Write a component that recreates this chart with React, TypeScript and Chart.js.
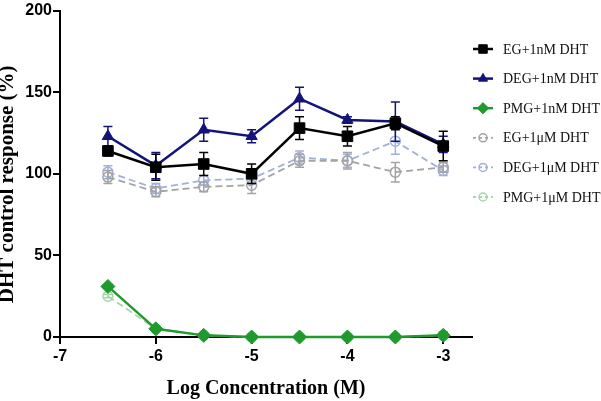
import { useEffect, useRef } from "react";
import { Chart, registerables } from "chart.js";
import { drawPoint } from "chart.js/helpers";

Chart.register(...registerables);

// log molar concentrations tested
const logConc = [-6.5, -6, -5.5, -5, -4.5, -4, -3.5, -3];
const xTicks = [-7, -6, -5, -4, -3];

const seriesNames = [
  "EG+1nM DHT",
  "DEG+1nM DHT",
  "PMG+1nM DHT",
  "EG+1μM DHT",
  "DEG+1μM DHT",
  "PMG+1μM DHT",
];

// mean % of DHT control response and SEM
const eg1nM = [114, 104, 106, 100, 128, 123, 131, 117];
const eg1nMErr = [3, 8, 7, 6, 7, 6, 4, 9];
const deg1nM = [123, 105, 127, 123, 146, 133, 132, 118];
const deg1nMErr = [6, 8, 7, 4, 7, 2, 12, 5];
const pmg1nM = [31, 5, 1, 0, 0, 0, 0, 1];
const pmg1nMErr = [1, 1, 1, 1, 1, 1, 1, 2];
const eg1uM = [98, 89, 92, 93, 108, 108, 101, 104];
const eg1uMErr = [4, 3, 3, 5, 4, 5, 6, 3];
const deg1uM = [101, 91, 96, 97, 110, 108, 120, 102];
const deg1uMErr = [4, 3, 3, 3, 4, 4, 8, 3];
const pmg1uM = [25, 5, 1, 0, 0, 0, 0, 1];
const pmg1uMErr = [1, 1, 1, 1, 1, 1, 1, 1];

const toPoints = (vals: number[]) => vals.map((y, i) => ({ x: logConc[i], y }));

const errorBars = {
  id: "errorBars",
  afterDatasetDraw(chart: any, args: any) {
    const ds = chart.data.datasets[args.index];
    const errs: number[] = ds.errors || [];
    const yScale = chart.scales.y;
    const ctx = chart.ctx;
    ctx.save();
    ctx.strokeStyle = ds.borderColor;
    ctx.lineWidth = 1.5;
    ctx.setLineDash([]);
    args.meta.data.forEach((pt: any, j: number) => {
      const v = ds.data[j].y;
      const e = errs[j] || 0;
      if (!e) return;
      const yTop = yScale.getPixelForValue(v + e);
      const yBot = yScale.getPixelForValue(Math.max(v - e, 0));
      const x = pt.x;
      ctx.beginPath();
      ctx.moveTo(x, yTop);
      ctx.lineTo(x, yBot);
      ctx.moveTo(x - 4.5, yTop);
      ctx.lineTo(x + 4.5, yTop);
      ctx.moveTo(x - 4.5, yBot);
      ctx.lineTo(x + 4.5, yBot);
      ctx.stroke();
    });
    ctx.restore();
  },
};

const sideLegend = {
  id: "sideLegend",
  afterDraw(chart: any) {
    const ctx = chart.ctx;
    const x0 = chart.chartArea.right + 1;
    ctx.save();
    chart.data.datasets.forEach((ds: any, i: number) => {
      const y = 49 + i * 29.6;
      ctx.strokeStyle = ds.borderColor;
      ctx.lineWidth = ds.borderWidth;
      ctx.setLineDash(ds.borderDash ? [3, 3] : []);
      ctx.beginPath();
      ctx.moveTo(x0, y);
      ctx.lineTo(x0 + 20, y);
      ctx.stroke();
      ctx.setLineDash([]);
      ctx.fillStyle = ds.pointBackgroundColor;
      ctx.strokeStyle = ds.borderColor;
      ctx.lineWidth = ds.pointBorderWidth;
      drawPoint(ctx, {
        pointStyle: ds.pointStyle,
        radius: ds.pointRadius * 0.8,
        rotation: 0,
        borderWidth: ds.pointBorderWidth,
      }, x0 + 10, y);
      ctx.fillStyle = "#111";
      ctx.font = "14px 'Liberation Serif', 'Times New Roman', serif";
      ctx.textBaseline = "middle";
      ctx.textAlign = "left";
      ctx.fillText(ds.label, x0 + 30, y + 1);
    });
    ctx.restore();
  },
};

const tickFont = { family: "'Liberation Sans', Arial, sans-serif", weight: "bold" as const, size: 16 };

const App = () => {
  const chartRef = useRef<HTMLCanvasElement>(null);

  useEffect(() => {
    let chart: Chart | null = null;
    if (chartRef.current) {
      const ctx = chartRef.current.getContext("2d") as CanvasRenderingContext2D;
      const solid = (label: string, data: number[], errors: number[], color: string, style: string, radius: number) => ({
        label,
        data: toPoints(data),
        errors,
        borderColor: color,
        backgroundColor: color,
        pointBackgroundColor: color,
        pointBorderColor: color,
        pointBorderWidth: 1,
        pointStyle: style,
        pointRadius: radius,
        borderWidth: 2.5,
        tension: 0,
      });
      const dashed = (label: string, data: number[], errors: number[], color: string) => ({
        label,
        data: toPoints(data),
        errors,
        borderColor: color,
        backgroundColor: "rgba(0,0,0,0)",
        pointBackgroundColor: "rgba(0,0,0,0)",
        pointBorderColor: color,
        pointBorderWidth: 1.5,
        pointStyle: "circle",
        pointRadius: 5,
        borderWidth: 1.8,
        borderDash: [7, 4],
        tension: 0,
      });
      chart = new Chart(ctx, {
        type: "line",
        data: {
          datasets: [
            solid(seriesNames[0], eg1nM, eg1nMErr, "#000000", "rect", 7.5),
            solid(seriesNames[1], deg1nM, deg1nMErr, "#141478", "triangle", 6.5),
            solid(seriesNames[2], pmg1nM, pmg1nMErr, "#1f9a2e", "rectRot", 7),
            dashed(seriesNames[3], eg1uM, eg1uMErr, "#a3a3a3"),
            dashed(seriesNames[4], deg1uM, deg1uMErr, "#a2b0dc"),
            dashed(seriesNames[5], pmg1uM, pmg1uMErr, "#a6d6aa"),
          ] as any,
        },
        options: {
          animation: false,
          responsive: false,
          clip: false as any,
          layout: { padding: { left: 0, right: 129, top: 0, bottom: 0 } },
          plugins: {
            legend: { display: false },
            tooltip: { enabled: false },
          },
          scales: {
            x: {
              type: "linear",
              min: -7,
              max: -2.7,
              afterBuildTicks: (scale: any) => {
                scale.ticks = xTicks.map((value) => ({ value }));
              },
              afterFit: (scale: any) => {
                scale.height = 64;
              },
              grid: { drawOnChartArea: false, drawTicks: true, tickLength: 7, color: "#000", lineWidth: 2 },
              border: { color: "#000", width: 2 },
              ticks: { color: "#000", padding: 3, font: tickFont },
              title: {
                display: true,
                text: "Log Concentration (M)",
                color: "#000",
                padding: { top: 0, bottom: 0 },
                font: { family: "'Liberation Serif', 'Times New Roman', serif", weight: "bold", size: 20 },
              },
            },
            y: {
              min: 0,
              max: 200,
              ticks: { stepSize: 50, color: "#000", padding: 1, font: tickFont },
              afterFit: (scale: any) => {
                scale.width = 60;
              },
              grid: { drawOnChartArea: false, drawTicks: true, tickLength: 7, color: "#000", lineWidth: 2 },
              border: { color: "#000", width: 2 },
              title: {
                display: true,
                text: "DHT control response (%)    ",
                color: "#000",
                padding: { top: -5, bottom: 0 },
                font: { family: "'Liberation Serif', 'Times New Roman', serif", weight: "bold", size: 21 },
              },
            },
          },
        },
        plugins: [errorBars, sideLegend],
      });
    }
    return () => {
      if (chart) {
        chart.destroy();
      }
    };
  }, []);

  return (
    <div style={{ position: "fixed", left: 0, top: 0, width: 601, height: 401, background: "#fff" }}>
      <canvas ref={chartRef} width={601} height={401} />
    </div>
  );
};

export default App;
